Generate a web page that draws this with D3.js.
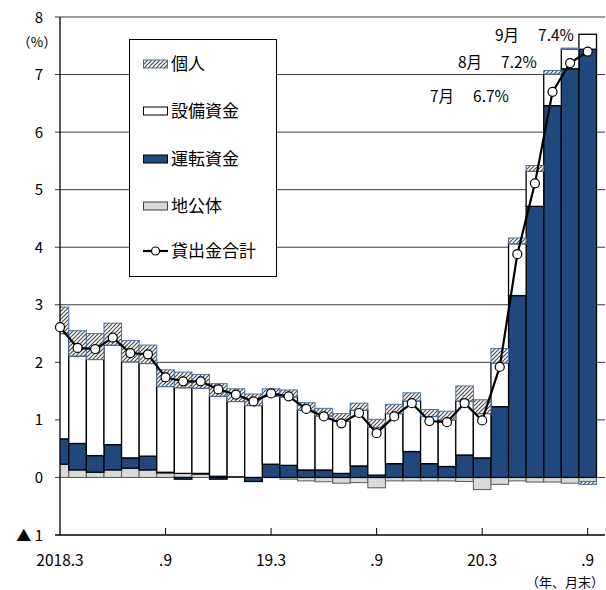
<!DOCTYPE html>
<html lang="ja">
<head>
<meta charset="utf-8">
<script src="https://cdn.jsdelivr.net/npm/d3@7"></script>
<style>
  html, body { margin: 0; padding: 0; background: #fff; }
  svg { display: block; font-family: "Noto Sans CJK JP", "Noto Sans", sans-serif; }
</style>
</head>
<body>
<svg id="chart" width="606" height="590"></svg>
<script>
// Monthly categories, 2018.3 – 2020.9 (year-on-year contribution, %)
const categories = [
  "2018.3","2018.4","2018.5","2018.6","2018.7","2018.8","2018.9","2018.10","2018.11","2018.12",
  "2019.1","2019.2","2019.3","2019.4","2019.5","2019.6","2019.7","2019.8","2019.9","2019.10",
  "2019.11","2019.12","2020.1","2020.2","2020.3","2020.4","2020.5","2020.6","2020.7","2020.8","2020.9"
];
const chiko   = [0.23,0.13,0.09,0.13,0.16,0.13,0.08,0.07,0.06,0.02,0.01,0.00,0.00,-0.03,-0.06,-0.075,-0.10,-0.09,-0.18,-0.06,-0.06,-0.06,-0.06,-0.07,-0.21,-0.12,-0.06,-0.08,-0.08,-0.10,-0.07];
const unten   = [0.44,0.46,0.29,0.44,0.18,0.24,0.01,-0.03,0.01,-0.03,0.00,-0.07,0.23,0.21,0.13,0.13,0.07,0.20,0.04,0.24,0.45,0.24,0.19,0.39,0.34,1.23,3.16,4.71,6.46,7.10,7.44];
const setsubi = [1.83,1.52,1.67,1.73,1.67,1.61,1.49,1.49,1.48,1.39,1.31,1.25,1.18,1.19,1.04,0.94,0.91,0.97,0.83,0.87,0.88,0.82,0.81,0.94,0.77,0.76,0.90,0.61,0.55,0.34,0.26];
const kojin   = [0.46,0.44,0.45,0.38,0.37,0.32,0.29,0.27,0.24,0.22,0.22,0.20,0.13,0.12,0.13,0.13,0.13,0.12,0.14,0.16,0.14,0.12,0.15,0.26,0.24,0.25,0.10,0.10,0.06,0.02,-0.05];
const total   = [2.61,2.25,2.23,2.43,2.16,2.14,1.74,1.67,1.67,1.53,1.44,1.32,1.46,1.41,1.19,1.06,0.94,1.12,0.77,1.06,1.29,0.98,0.96,1.29,0.99,1.92,3.88,5.11,6.7,7.2,7.4];

const seriesNames = ["地公体", "運転資金", "設備資金", "個人"];
const yTicks = [-1, 0, 1, 2, 3, 4, 5, 6, 7, 8];
const xTickIdx = [0, 6, 12, 18, 24, 30];
const xTickLabels = ["2018.3", ".9", "19.3", ".9", "20.3", ".9"];
const notes = [
  { idx: 30, text: "9月\u3000 7.4%" },
  { idx: 29, text: "8月\u3000 7.2%" },
  { idx: 28, text: "7月\u3000 6.7%" }
];

const svg = d3.select("#chart");
const plotL = 60, plotR = 605, plotT = 17, plotB = 535;
const NAVY = "#1f497d";

const rows = categories.map((c, i) => ({
  cat: c, "地公体": chiko[i], "運転資金": unten[i], "設備資金": setsubi[i], "個人": kojin[i]
}));

const step = (587.7 - plotL) / 30;
const x = d3.scaleBand().domain(categories)
  .range([plotL - step / 2, plotL - step / 2 + step * categories.length]).padding(0);
const y = d3.scaleLinear().domain([-1, 8]).range([plotB, plotT]);
const cx = c => x(c) + x.bandwidth() / 2;

// hatch for 個人
const defs = svg.append("defs");
const pat = defs.append("pattern").attr("id", "hatch")
  .attr("patternUnits", "userSpaceOnUse").attr("width", 4).attr("height", 4);
pat.append("rect").attr("width", 4).attr("height", 4).attr("fill", "#fff");
pat.append("path").attr("d", "M-1,1 l2,-2 M0,4 l4,-4 M3,5 l2,-2")
  .attr("stroke", "#4d4d4d").attr("stroke-width", 1.2);
defs.append("clipPath").attr("id", "plot")
  .append("rect").attr("x", plotL).attr("y", 0).attr("width", 606 - plotL).attr("height", 590);

// gridlines
svg.append("g").selectAll("line").data(yTicks.filter(v => v >= 0)).join("line")
  .attr("x1", plotL - 5).attr("x2", plotR)
  .attr("y1", d => y(d)).attr("y2", d => y(d))
  .attr("stroke", "#3a3a3a").attr("stroke-width", 1);

// stacked bars
const stack = d3.stack().keys(seriesNames).offset(d3.stackOffsetDiverging);
const layers = stack(rows);
const style = {
  "地公体":   { fill: "#d9d9d9", stroke: "#595959", sw: 1 },
  "運転資金": { fill: NAVY, stroke: "#000", sw: 1.3 },
  "設備資金": { fill: "#fff", stroke: "#000", sw: 1.3 },
  "個人":     { fill: "url(#hatch)", stroke: "#4a72a8", sw: 1 }
};
const barsG = svg.append("g").attr("clip-path", "url(#plot)");
layers.forEach(layer => {
  const s = style[layer.key];
  barsG.append("g").selectAll("rect").data(layer).join("rect")
    .attr("x", d => x(d.data.cat))
    .attr("width", x.bandwidth())
    .attr("y", d => y(Math.max(d[0], d[1])))
    .attr("height", d => Math.abs(y(d[0]) - y(d[1])))
    .attr("fill", s.fill).attr("stroke", s.stroke).attr("stroke-width", s.sw);
});

// axes
svg.append("line").attr("x1", plotL).attr("x2", plotL).attr("y1", plotT).attr("y2", plotB)
  .attr("stroke", "#000").attr("stroke-width", 1.3);
svg.append("line").attr("x1", plotL - 5).attr("x2", plotR).attr("y1", plotB).attr("y2", plotB)
  .attr("stroke", "#000").attr("stroke-width", 1.3);
svg.append("g").selectAll("line").data(xTickIdx.slice(1)).join("line")
  .attr("x1", i => cx(categories[i])).attr("x2", i => cx(categories[i]))
  .attr("y1", plotB).attr("y2", plotB - 7)
  .attr("stroke", "#000").attr("stroke-width", 1);

// y tick labels
svg.append("g").selectAll("text").data(yTicks).join("text")
  .attr("x", 43).attr("y", d => y(d) + 5.5)
  .attr("text-anchor", "end").attr("font-size", 15).attr("fill", "#000")
  .text(d => d < 0 ? "▲ " + Math.abs(d) : d);
svg.append("text").attr("x", 37).attr("y", 47).attr("text-anchor", "middle")
  .attr("font-size", 13.5).text("（%）");

// x tick labels
svg.append("g").selectAll("text").data(xTickIdx).join("text")
  .attr("x", i => cx(categories[i])).attr("y", 566)
  .attr("text-anchor", "middle").attr("font-size", 15.5)
  .text((i, k) => xTickLabels[k]);
svg.append("text").attr("x", 604).attr("y", 587).attr("text-anchor", "end")
  .attr("font-size", 13).text("（年、月末）");

// total line
const line = d3.line().x((d, i) => cx(categories[i])).y(d => y(d));
svg.append("path").datum(total).attr("d", line)
  .attr("fill", "none").attr("stroke", "#000").attr("stroke-width", 2.2);
svg.append("g").selectAll("circle").data(total).join("circle")
  .attr("cx", (d, i) => cx(categories[i])).attr("cy", d => y(d)).attr("r", 4.5)
  .attr("fill", "#fff").attr("stroke", "#000").attr("stroke-width", 1.2);

// value notes for the last three months
const noteX = [495, 458, 430], noteY = [41, 68, 102];
svg.append("g").selectAll("text").data(notes).join("text")
  .attr("x", (d, k) => noteX[k]).attr("y", (d, k) => noteY[k])
  .attr("font-size", 15.5).text(d => d.text);

// legend
const lg = svg.append("g");
lg.append("rect").attr("x", 129.5).attr("y", 39.5).attr("width", 147).attr("height", 237)
  .attr("fill", "#fff").attr("stroke", "#000").attr("stroke-width", 1);
const legendItems = [
  { key: "個人", y: 64 }, { key: "設備資金", y: 111 }, { key: "運転資金", y: 159 },
  { key: "地公体", y: 206 }, { key: "貸出金合計", y: 251 }
];
legendItems.forEach(it => {
  if (style[it.key]) {
    const s = style[it.key];
    lg.append("rect").attr("x", 143.5).attr("y", it.y - 4).attr("width", 24).attr("height", 8)
      .attr("fill", s.fill).attr("stroke", it.key === "個人" ? "#4a72a8" : (it.key === "地公体" ? "#404040" : "#000"))
      .attr("stroke-width", 1);
  } else {
    lg.append("line").attr("x1", 143).attr("x2", 168).attr("y1", it.y).attr("y2", it.y)
      .attr("stroke", "#000").attr("stroke-width", 2.2);
    lg.append("circle").attr("cx", 155.5).attr("cy", it.y).attr("r", 4)
      .attr("fill", "#fff").attr("stroke", "#000").attr("stroke-width", 1.2);
  }
  lg.append("text").attr("x", 171).attr("y", it.y + 6).attr("font-size", 17).text(it.key);
});
</script>
</body>
</html>
